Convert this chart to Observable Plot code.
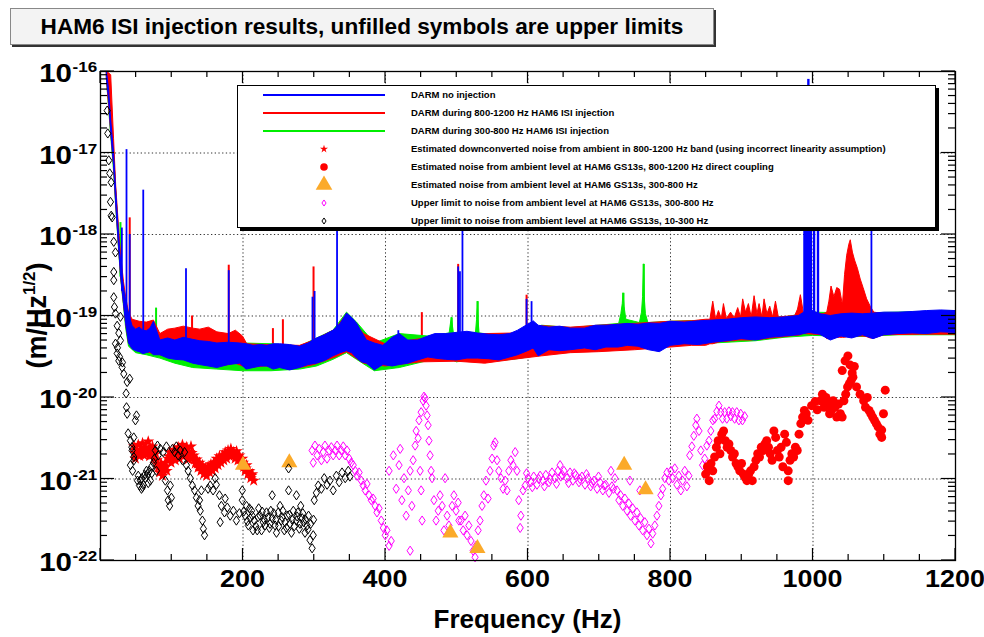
<!DOCTYPE html>
<html><head><meta charset="utf-8">
<script src="https://cdn.jsdelivr.net/npm/d3@7"></script>
<script src="https://cdn.jsdelivr.net/npm/@observablehq/plot@0.6"></script>
<style>
body{margin:0;background:#fff;}
#wrap{position:relative;width:984px;height:637px;overflow:hidden;font-family:"Liberation Sans",Arial,Helvetica,sans-serif;background:#fff;}
#wrap svg.plot{position:absolute;left:0;top:0;}
#title{position:absolute;left:10px;top:8px;width:702px;height:35px;background:#f3f3f3;border:1px solid #888;box-shadow:2px 2px 0 #333;
 font-weight:bold;font-size:22.6px;line-height:35px;text-align:center;color:#000;white-space:nowrap;}
#legend{position:absolute;left:237px;top:85px;width:697px;height:141px;background:#fff;border:1px solid #000;box-shadow:3px 3px 0 #000;}
</style></head>
<body><div id="wrap"><div id="title">HAM6 ISI injection results, unfilled symbols are upper limits</div><div id="legend"></div></div>
<script>
// ---------------- DATA ----------------
const xMajorTicks = [0, 200, 400, 600, 800, 1000, 1200];
const xLabelTicks = [200, 400, 600, 800, 1000, 1200];
const xGridTicks = [200, 400, 600, 800, 1000];
const yDecades = [1e-22, 1e-21, 1e-20, 1e-19, 1e-18, 1e-17, 1e-16];
const yDecadeExp = ["-22", "-21", "-20", "-19", "-18", "-17", "-16"];
const yGridTicks = [1e-21, 1e-20, 1e-19, 1e-18, 1e-17];

// DARM spectra as [frequency Hz, lower edge, upper edge] of the plotted trace (m/Hz^1/2)
const blueBand = [
[9,8e-17,1e-16],[12,4.5e-17,6e-17],[15,1.8e-17,2.5e-17],[19,7e-18,1e-17],[22,2.4e-18,3.5e-18],[26,7e-19,1e-18],[29,3e-19,4.5e-19],[33,1.4e-19,2.2e-19],[36,8e-20,1.5e-19],[40,4.6e-20,1.07e-19],
[45,3.9e-20,7.5e-20],[50,3.7e-20,6.8e-20],[55,3.6e-20,7.2e-20],[60,3.4e-20,6.6e-20],[65,3.5e-20,6.5e-20],[70,3.6e-20,7e-20],[75,3.3e-20,8.5e-20],[84,3.3e-20,5e-20],[95,3e-20,5.3e-20],[105,2.9e-20,5e-20],
[117,2.85e-20,5.4e-20],[130,2.6e-20,5.1e-20],[140,2.5e-20,4.9e-20],[152,2.4e-20,4.8e-20],[164,2.3e-20,4.6e-20],[180,2.5e-20,4.7e-20],[196,2.6e-20,4.6e-20],[205,2.2e-20,4.5e-20],[215,2.3e-20,4.3e-20],[225,2.4e-20,4.4e-20],
[234,2.4e-20,4.3e-20],[243,2.2e-20,4.5e-20],[252,2.3e-20,4.5e-20],[266,2.15e-20,4.4e-20],[280,2.3e-20,4.2e-20],[292,2.5e-20,4.6e-20],[304,2.6e-20,5.3e-20],[315,2.8e-20,5.8e-20],[327,3.2e-20,6.6e-20],[337,3.5e-20,8e-20],
[346,3.7e-20,1.07e-19],[353,3.5e-20,9.5e-20],[360,3e-20,8.1e-20],[367,2.7e-20,6.3e-20],[374,2.6e-20,5e-20],[385,2.15e-20,4.6e-20],[397,2.5e-20,4.3e-20],[410,2.4e-20,5.4e-20],[420,2.5e-20,6e-20],[432,2.6e-20,5e-20],
[446,2.85e-20,5e-20],[460,3.1e-20,5.6e-20],[470,3e-20,6e-20],[485,2.9e-20,6e-20],[500,2.85e-20,6.2e-20],[515,3e-20,6.4e-20],[530,3e-20,6.1e-20],[545,2.95e-20,5.9e-20],[560,2.85e-20,5.8e-20],[575,3.1e-20,6e-20],
[586,3.3e-20,6.6e-20],[600,3.7e-20,7.8e-20],[608,4e-20,8.6e-20],[615,3.2e-20,7.6e-20],[630,3.8e-20,7.2e-20],[645,3.7e-20,7.4e-20],[660,3.8e-20,7e-20],[680,4e-20,7e-20],[695,3.8e-20,7.6e-20],[710,4.1e-20,7.6e-20],
[727,4.1e-20,7.8e-20],[740,4.3e-20,8e-20],[755,4.2e-20,7.8e-20],[770,3.8e-20,8.1e-20],[785,3.6e-20,8e-20],[800,4.3e-20,8.5e-20],[820,4.5e-20,8.3e-20],[840,4.4e-20,8.6e-20],[860,4.7e-20,8.8e-20],[880,4.9e-20,9e-20],
[900,5.2e-20,9.4e-20],[920,5e-20,9.6e-20],[940,5.4e-20,9.4e-20],[960,5.6e-20,9.6e-20],[980,5.8e-20,1e-19],[995,6.2e-20,1.2e-19],[1010,5.9e-20,1.05e-19],[1025,5e-20,1e-19],[1040,5.6e-20,1.05e-19],[1055,5.3e-20,1.07e-19],
[1070,5.8e-20,1.05e-19],[1085,5.2e-20,1.07e-19],[1100,5.8e-20,1.1e-19],[1120,6e-20,1.1e-19],[1140,6.1e-20,1.12e-19],[1160,6e-20,1.15e-19],[1180,6.3e-20,1.17e-19],[1200,6.2e-20,1.15e-19]
];
const redBand = [
[9,8e-17,1e-16],[15,1.8e-17,9e-17],[19,7e-18,1.5e-17],[22,2.4e-18,4e-18],[26,7e-19,1.2e-18],[29,3e-19,5.5e-19],[33,1.4e-19,2.6e-19],[36,8e-20,1.7e-19],[40,4.6e-20,1.1e-19],[45,4e-20,9e-20],
[55,3.7e-20,8.5e-20],[65,3.6e-20,8.3e-20],[75,3.4e-20,8.8e-20],[84,3.3e-20,6e-20],[95,3.1e-20,6.8e-20],[105,3e-20,7e-20],[117,2.9e-20,7.4e-20],[130,2.7e-20,7e-20],[140,2.6e-20,6.8e-20],[152,2.5e-20,7.2e-20],
[164,2.4e-20,6.3e-20],[180,2.5e-20,6e-20],[190,2.6e-20,6.6e-20],[200,2.4e-20,5.6e-20],[206,2.3e-20,4.5e-20],[230,2.4e-20,4.4e-20],[280,2.3e-20,4.3e-20],[300,2.5e-20,5e-20],[330,3.1e-20,6.8e-20],[346,3.6e-20,1.05e-19],
[370,2.6e-20,6e-20],[400,2.4e-20,4.5e-20],[450,2.7e-20,5.2e-20],[500,2.75e-20,6e-20],[540,2.6e-20,6e-20],[580,2.9e-20,6.1e-20],[620,3.2e-20,7.5e-20],[660,3.5e-20,7.2e-20],[700,3.6e-20,7.6e-20],[750,3.8e-20,8e-20],
[800,4.1e-20,8.5e-20],[830,4.3e-20,8.6e-20],[850,4.3e-20,9e-20],[856,4.5e-20,9e-20],[860,4.5e-20,1.5e-19],[864,4.6e-20,9e-20],[868,4.7e-20,1.15e-19],[872,4.8e-20,9.2e-20],[875,4.8e-20,1.4e-19],[879,4.8e-20,9.2e-20],
[885,4.9e-20,1.1e-19],[890,4.9e-20,9.3e-20],[895,5e-20,1.25e-19],[899,5e-20,9.5e-20],[902,5e-20,1.6e-19],[906,5e-20,1.1e-19],[910,5e-20,1.4e-19],[914,5e-20,9.6e-20],[918,5.1e-20,1.75e-19],[922,5.1e-20,1.05e-19],
[925,5.1e-20,1.4e-19],[929,5.1e-20,9.6e-20],[932,5.2e-20,1.6e-19],[936,5.2e-20,1.05e-19],[940,5.3e-20,1.3e-19],[944,5.3e-20,9.6e-20],[948,5.4e-20,1.5e-19],[952,5.4e-20,9.6e-20],[975,5.7e-20,1e-19],[979,5.7e-20,1.2e-19],
[983,5.8e-20,1.8e-19],[987,6e-20,1.1e-19],[1015,5.8e-20,1.05e-19],[1020,5.2e-20,1.1e-19],[1023,5.2e-20,1.5e-19],[1026,5.3e-20,2.3e-19],[1030,5.3e-20,1.7e-19],[1034,5.4e-20,2.2e-19],[1038,5.4e-20,2.1e-19],[1042,5.4e-20,1.35e-19],
[1045,5.4e-20,3.2e-19],[1048,5.5e-20,5.5e-19],[1051,5.5e-20,7.5e-19],[1053,5.5e-20,8.5e-19],[1056,5.5e-20,6e-19],[1059,5.6e-20,4.8e-19],[1063,5.6e-20,3.8e-19],[1067,5.6e-20,2.8e-19],[1071,5.6e-20,2.2e-19],[1076,5.5e-20,1.6e-19],
[1081,5.3e-20,1.3e-19],[1086,5.3e-20,1.1e-19],[1100,5.8e-20,1.06e-19],[1150,5.9e-20,1.1e-19],[1200,5.9e-20,1.1e-19]
];
const greenBand = [
[9,8e-17,1e-16],[15,1.6e-17,2.4e-17],[19,6e-18,1e-17],[22,2.2e-18,3.4e-18],[26,6.5e-19,1e-18],[29,2.8e-19,4.4e-19],[33,1.3e-19,2.2e-19],[36,7e-20,1.5e-19],[40,4.2e-20,1e-19],[50,3.5e-20,7e-20],
[65,3.3e-20,6.6e-20],[84,3e-20,5e-20],[105,2.6e-20,5e-20],[130,2.3e-20,5.1e-20],[164,2.2e-20,4.6e-20],[200,2.1e-20,4.6e-20],[240,2.1e-20,4.5e-20],[280,2.2e-20,4.2e-20],[304,2.4e-20,5.3e-20],[327,2.9e-20,6.6e-20],
[346,3.5e-20,1.1e-19],[360,2.9e-20,8.3e-20],[385,2.1e-20,4.6e-20],[420,2.3e-20,6e-20],[460,2.8e-20,5.6e-20],[490,2.8e-20,6.1e-20],[493,2.8e-20,9.5e-20],[496,2.8e-20,6.1e-20],[500,2.7e-20,6.2e-20],[527,2.9e-20,6.2e-20],
[528.5,3e-20,9e-20],[529.5,3e-20,1.5e-19],[530.5,3e-20,9e-20],[532,3e-20,6.1e-20],[540,2.75e-20,6e-20],[580,2.9e-20,6e-20],[620,3.3e-20,7.6e-20],[660,3.6e-20,7.1e-20],[700,3.7e-20,7.6e-20],[728,3.9e-20,8e-20],
[731,3.9e-20,1.05e-19],[733,4e-20,1.4e-19],[734,4e-20,1.9e-19],[735.5,4e-20,1.3e-19],[738,4e-20,9e-20],[757,4e-20,8.2e-20],[760,4e-20,1.1e-19],[761.5,4e-20,1.7e-19],[762.6,4e-20,4.3e-19],[763.8,4e-20,1.7e-19],
[765.5,4e-20,1.05e-19],[769,4e-20,8.2e-20],[800,4.2e-20,8.5e-20],[860,4.6e-20,8.8e-20],[920,4.9e-20,9.6e-20],[960,5.4e-20,9.6e-20],[1000,5.7e-20,1.1e-19],[1060,5.5e-20,1.07e-19],[1120,5.8e-20,1.1e-19],[1200,5.8e-20,1.15e-19]
];
// narrow lines: [frequency, foot, peak]
const blueLines = [[30,2e-19,1.2e-18],[36.5,1e-19,1.1e-17],[41,6e-20,1e-18],[60,5e-20,3.5e-18],[120,4e-20,3.8e-19],[180,4e-20,3.6e-19],[297.5,4e-20,1.7e-19],[300.5,4e-20,2e-19],[332,5e-20,3e-18],[418,4e-20,6.6e-20],
[502,5e-20,4e-19],[504.5,5e-20,3.5e-19],[508,5e-20,3e-18],[598,5e-20,1.6e-19],[605,5e-20,1.5e-19],[1082,8e-20,2e-18]];
const blueBlock = [[988,8e-20,5e-18],[990,8e-20,5e-18],[992,8e-20,5e-18],[993.5,8e-20,8e-17],[995,8e-20,5e-18],[997,8e-20,5e-18],[1001.5,8e-20,5e-18],[1007,8e-20,5e-18]];
const redLines = [[41,6e-20,1.6e-18],[128.5,4e-20,1e-19],[180,4e-20,4.2e-19],[242,4e-20,7e-20],[256,4e-20,9e-20],[299,4e-20,4e-19],[451,4e-20,1.1e-19],[502,5e-20,4.3e-19],[598,5e-20,1.8e-19]];
const greenLines = [[28,3e-19,1.4e-18],[78,4e-20,1.25e-19],[493,4e-20,9.5e-20],[529.5,4e-20,1.5e-19],[734,5e-20,1.9e-19],[762.6,5e-20,4.3e-19]];

// markers: [frequency Hz, log10 of amplitude]
const redStarLog = [[47,-20.60],[49,-20.75],[51,-20.65],[53,-20.58],[55,-20.72],[57,-20.64],[59,-20.56],[61,-20.71],[63,-20.61],[65,-20.67],[67,-20.54],[69,-20.72],[71,-20.64],[73,-20.60],[75,-20.75],[77,-20.67],[79,-20.77],[81,-20.86],[83,-20.92],[85,-20.81],
[87,-20.96],[89,-20.87],[91,-20.80],[93,-20.90],[95,-20.75],[97,-20.67],[99,-20.80],[101,-20.71],[103,-20.64],[105,-20.77],[107,-20.69],[109,-20.61],[111,-20.75],[113,-20.66],[115,-20.58],[117,-20.72],[119,-20.65],[121,-20.61],[123,-20.76],[125,-20.67],
[127,-20.60],[129,-20.75],[131,-20.71],[133,-20.81],[135,-20.76],[137,-20.86],[139,-20.80],[141,-20.90],[143,-20.83],[145,-20.94],[147,-20.87],[149,-20.96],[151,-20.85],[153,-20.92],[155,-20.82],[157,-20.90],[159,-20.80],[161,-20.87],[163,-20.75],[165,-20.83],
[167,-20.72],[169,-20.80],[171,-20.71],[173,-20.77],[175,-20.67],[177,-20.75],[179,-20.65],[181,-20.72],[183,-20.63],[185,-20.71],[187,-20.67],[189,-20.75],[191,-20.66],[193,-20.77],[195,-20.71],[197,-20.81],[199,-20.75],[201,-20.85],[203,-20.90],[205,-20.83],
[207,-20.94],[209,-20.90],[211,-20.99],[213,-20.94],[215,-21.02],
[48,-20.68],[52,-20.70],[56,-20.66],[60,-20.64],[64,-20.70],[68,-20.63],[72,-20.70],[76,-20.70],[80,-20.82],[84,-20.88],[88,-20.90],[92,-20.85],[96,-20.72],[100,-20.75],[104,-20.70],[108,-20.67],[112,-20.70],[116,-20.64],[120,-20.68],[124,-20.70],
[128,-20.68],[132,-20.76],[136,-20.81],[140,-20.85],[144,-20.88],[148,-20.92],[152,-20.88],[156,-20.86],[160,-20.84],[164,-20.79],[168,-20.76],[172,-20.74],[176,-20.71],[180,-20.69],[184,-20.67],[188,-20.71],[192,-20.72],[196,-20.76],[200,-20.80],[204,-20.87],[208,-20.92],[212,-20.96]];
const redDotLog = [[849.3,-20.94],[851.8,-20.85],[854.3,-21.02],[856.8,-20.81],[859.3,-20.90],[861.9,-20.73],[864.4,-20.61],[866.9,-20.53],[869.4,-20.69],[872,-20.45],[874.5,-20.41],[877,-20.53],[879.5,-20.61],[882,-20.57],[884.6,-20.65],[887.1,-20.73],[889.6,-20.69],[892.1,-20.81],[894.6,-20.85],[897.2,-20.90],
[899.7,-20.81],[902.2,-20.94],[904.7,-20.98],[907.3,-21.02],[909.8,-20.94],[912.3,-20.90],[914.8,-21.02],[917.3,-20.85],[919.9,-20.77],[922.4,-20.69],[924.9,-20.73],[927.4,-20.61],[930,-20.65],[932.5,-20.57],[935,-20.53],[937.5,-20.61],[940,-20.69],[942.6,-20.77],[945.1,-20.41],[947.6,-20.49],
[950.1,-20.65],[952.6,-20.73],[955.2,-20.61],[957.7,-20.85],[960.2,-20.45],[962.7,-20.55],[965.2,-21.02],[965.2,-20.90],[967.8,-20.77],[970.3,-20.69],[972.8,-20.73],[975.3,-20.61],[977.9,-20.65],[980.4,-20.45],[982.9,-20.32],[985.4,-20.24],[987.9,-20.16],[990.5,-20.20],[993,-20.28],[998,-20.10],
[1003,-20.05],[1006,-20.15],[1010.6,-20.04],[1013.2,-19.96],[1015.7,-20.12],[1018.2,-20.00],[1020.7,-20.08],[1023.3,-20.20],[1025.8,-20.16],[1028.3,-20.04],[1030.8,-20.12],[1033.3,-20.24],[1035.9,-20.08],[1038.4,-20.20],[1040.9,-20.24],[1043.4,-20.04],[1045.9,-19.96],[1048.5,-19.87],[1051,-19.83],[1053.5,-19.79],
[1056,-19.75],[1041,-19.67],[1045,-19.55],[1049,-19.49],[1052,-19.60],[1055,-19.70],[1058,-19.62],[1061.1,-19.87],[1066.1,-19.96],[1071.1,-20.04],[1073.7,-20.12],[1076.2,-20.00],[1078.7,-20.16],[1081.2,-20.20],[1083.7,-20.24],[1086.3,-20.28],[1088.8,-20.32],[1091.3,-20.36],[1093.8,-20.45],[1096.4,-20.49],
[1096.4,-20.40],[1101.4,-19.91],[1098.9,-20.20]];
const orangeTriangleLog = [[200,-20.83],[265,-20.80],[491,-21.66],[529,-21.85],[735,-20.83],[765,-21.13]];
const magentaDiamondLog = [
[297,-20.65],[298.6,-20.80],[301,-20.59],[304,-20.71],[307,-20.63],[310,-20.77],[312.6,-20.67],[315,-20.59],[318,-20.75],[321,-20.65],[324,-20.61],[326.6,-20.71],[329.5,-20.65],[332,-20.59],[335,-20.71],[338,-20.65],[340.7,-20.60],[343.5,-20.71],[346,-20.65],[349,-20.75],[352,-20.80],
[354.7,-20.83],[357.5,-20.90],[360,-20.96],[363,-20.92],[366,-21.02],[368.7,-21.08],[371.5,-21.14],[374,-21.06],[377,-21.20],[380,-21.26],[382.7,-21.24],[385.5,-21.33],[388,-21.41],[391,-21.36],[394,-21.51],[397,-21.60],[399.6,-21.69],[402,-21.63],[405,-21.82],[408,-21.76],[434.6,-21.88],
[405,-20.90],[411,-20.71],[415,-21.12],[419,-20.83],[420.6,-20.63],[423,-21.26],[426,-20.99],[429,-21.45],[432,-21.14],[434.6,-20.90],[437,-21.33],[438.8,-20.77],[441.6,-20.59],[443,-20.41],[445.8,-20.50],[448.6,-20.90],[450,-21.14],[451.4,-21.51],
[447,-20.28],[450,-20.18],[452.8,-20.04],[454,-19.99],[455.6,-20.01],[457,-20.10],[458.4,-20.22],[459.8,-20.34],[461,-20.53],[462.6,-20.71],[464,-20.90],[465.4,-20.99],
[468,-21.26],[471,-21.51],[474,-21.39],[476.6,-21.20],[479.5,-21.33],[482,-21.63],[483.7,-20.99],[486.5,-21.45],[489,-21.57],[493.5,-21.33],[496,-21.20],[499,-21.39],[502,-21.29],[503,-21.51],
[506,-21.51],[509,-21.63],[511.7,-21.45],[514.5,-21.69],[517,-21.57],[520,-21.76],[523,-21.88],[525.7,-21.96],[527,-21.82],[530,-21.63],[532.7,-21.51],[535.5,-21.33],
[538,-21.20],[541,-21.02],[544,-21.24],[546.7,-20.90],[549.6,-20.75],[552,-20.59],[553.8,-20.55],[556.6,-20.77],[559,-20.90],[562,-20.99],[565,-21.12],[568,-21.02],[570.6,-21.14],[573,-20.90],[576,-20.77],[579,-20.83],[582,-20.67],[584.6,-20.90],[587,-21.26],[589,-21.60],[590,-21.45],[593,-21.14],
[596,-21.08],[600,-20.99],[604,-21.04],[608,-20.97],[612.6,-21.07],[617,-20.96],[621,-21.02],[625,-20.95],[629.5,-21.04],[633.7,-20.92],[638,-20.99],[642,-20.90],[646,-20.97],[650.5,-20.90],[654.7,-20.99],[659,-20.92],[663,-21.02],[667,-20.95],[671.5,-21.04],[675.7,-20.97],
[680,-21.07],[684,-20.99],[688,-21.09],[692.6,-21.02],[697,-21.12],[701,-21.04],[705,-21.14],[709,-21.07],[713.6,-21.17],[717.8,-21.09],[722,-20.99],[716.4,-20.90],[645,-20.83],
[598,-20.93],[606,-21.10],[615,-21.00],[623,-21.09],[631,-21.00],[640,-21.06],[648,-20.95],[657,-21.05],[665,-20.93],[673,-21.00],[682,-20.94],[690,-21.05],[699,-20.97],[707,-21.08],[720,-21.12],
[725,-21.14],[727.6,-21.26],[730,-21.20],[733,-21.33],[736,-21.24],[739,-21.39],[741.6,-21.30],[744,-21.45],[747,-21.36],[750,-21.51],[753,-21.41],[755.6,-21.57],[758,-21.48],[761,-21.63],[764,-21.53],[767,-21.69],[769.7,-21.61],[772.5,-21.79],[775,-21.67],[778,-21.57],[781,-21.45],[783.7,-21.33],[743,-21.02],[757,-21.14],
[786.5,-21.20],[789,-21.12],[792,-20.99],[795,-20.92],[797.7,-21.02],[800.6,-20.90],[803,-20.99],[806,-20.87],[809,-21.07],[811.7,-20.96],[814.5,-21.14],[817,-21.02],[820,-20.90],[823,-21.09],[825.8,-20.96],[827,-20.71],[830,-20.60],[832.7,-20.47],[835.5,-20.34],[837,-20.26],
[840,-20.41],[842.5,-20.65],[845,-20.83],[848,-20.75],[851,-20.59],[854,-20.53],[856.6,-20.41],[859.4,-20.28],[862,-20.26],[865,-20.17],[868,-20.10],[870.6,-20.18],[873,-20.26],[876,-20.18],[879,-20.26],[882,-20.17],[884.6,-20.23],[887,-20.18],[890,-20.26],[893,-20.18],[896,-20.28],[898.6,-20.20],[901,-20.28],[904,-20.23]];
const blackDiamondLog = [
[9.4,-16.48],[10.2,-16.76],[11.6,-17.09],[13,-17.25],[15,-17.36],[14,-17.60],[15,-17.77],[16.4,-17.79],[18.6,-18.09],[21,-18.22],[18.6,-18.46],[18.6,-18.56],[18.6,-18.77],[19.6,-18.89],[21,-18.97],[28,-19.01],[23.4,-19.12],[25.7,-19.21],[28,-19.30],[21,-19.34],
[23.8,-19.39],[23.4,-19.46],[26.6,-19.50],[25.7,-19.55],[30.8,-19.57],[30.4,-19.63],[32.7,-19.71],[37.4,-19.81],[41,-19.77],[36,-19.95],[36.5,-20.12],[37.4,-20.20],[38.8,-20.44],[42,-20.53],[44.4,-20.65],[46.7,-20.49],[49,-20.28],[50.5,-20.22],[42,-20.83],[46.7,-20.73],[44,-20.61],[47,-20.77],[45,-20.90],
[51.9,-21.02],[54.7,-21.08],[57.5,-21.12],[60,-21.07],[63,-20.99],[66,-20.94],[68.7,-20.90],[71.5,-20.85],[74.3,-20.80],[75.7,-20.75],[78.5,-20.90],[70,-21.02],[64.5,-20.90],[77,-20.65],[53,-20.96],[58,-20.99],
[56,-21.02],[62,-20.95],[67,-21.05],[72,-20.93],[59,-21.10],
[80,-20.59],[84,-20.63],[88,-20.67],[92.5,-20.60],[81,-20.71],[91,-21.02],[94,-21.14],[95,-21.26],[97,-21.33],[99.5,-21.23],[98,-21.08],
[101,-20.63],[104,-20.67],[106.5,-20.60],[109,-20.71],[112,-20.65],[115,-20.77],[118,-20.67],[120.6,-20.83],
[123,-20.90],[126,-20.99],[129,-21.08],[132,-21.14],[134.6,-21.23],[137,-21.33],[140,-21.39],[143,-21.51],[144.4,-21.61],[146,-21.69],[139,-21.26],[141.6,-21.14],
[151,-21.12],[154,-21.08],[158,-21.14],[162.6,-21.07],[167,-21.20],[161,-20.99],
[169.6,-21.33],[174,-21.41],[178,-21.35],[182,-21.45],[186.5,-21.39],[190.7,-21.51],[195,-21.42],[175,-21.24],[168,-21.53],
[199,-21.26],[199,-21.14],[203,-21.45],[207.5,-21.57],[212,-21.39],[216,-21.51],[220,-21.63],[224,-21.45],[228.5,-21.53],[233,-21.41],[237,-21.60],[241,-21.48],[241,-21.20],[245,-21.57],[249.5,-21.41],[253.7,-21.51],[258,-21.63],[262,-21.45],[264,-20.87],[264,-21.14],
[266,-21.55],[270.6,-21.39],[274.8,-21.51],[275,-21.20],[279,-21.61],[283,-21.48],[287,-21.66],[290,-21.57],[294,-21.75],[297,-21.85],[298.6,-21.69],
[205,-21.33],[214,-21.63],[222,-21.36],[231,-21.57],[239,-21.39],[247,-21.66],[256,-21.39],[268,-21.66],[277,-21.41],[285,-21.53],[292,-21.45],[210,-21.48],[226,-21.63],[252,-21.33],[281,-21.33],
[201,-21.40],[206,-21.52],[209,-21.36],[213,-21.45],[218,-21.58],[221,-21.47],[227,-21.40],[230,-21.50],[235,-21.47],[238,-21.55],[243,-21.42],[246,-21.50],[250,-21.58],[255,-21.47],[259,-21.53],[261,-21.60],[265,-21.44],[269,-21.50],[272,-21.58],[276,-21.46],
[280,-21.55],[284,-21.42],[288,-21.50],[291,-21.62],[295,-21.55],[299,-21.50],
[300,-21.26],[303,-21.17],[305.6,-21.08],[310,-21.12],[314,-20.99],[318,-21.07],[322,-21.02],[326.6,-21.14],[331,-20.96],[335,-21.04],[339,-20.92],[343.5,-20.99],[347.7,-20.90],[350,-20.97]];

const legendItems = [
 {kind:"line", color:"#0000ff", label:"DARM no injection"},
 {kind:"line", color:"#ff0000", label:"DARM during 800-1200 Hz HAM6 ISI injection"},
 {kind:"line", color:"#00ee00", label:"DARM during 300-800 Hz HAM6 ISI injection"},
 {kind:"star", color:"#ff0000", label:"Estimated downconverted noise from ambient in 800-1200 Hz band (using incorrect linearity assumption)"},
 {kind:"circle", color:"#ff0000", label:"Estimated noise from ambient level at HAM6 GS13s, 800-1200 Hz direct coupling"},
 {kind:"triangle", color:"#fbaa2a", label:"Estimated noise from ambient level at HAM6 GS13s, 300-800 Hz"},
 {kind:"diamond", color:"#ff00ff", label:"Upper limit to noise from ambient level at HAM6 GS13s, 300-800 Hz"},
 {kind:"diamond", color:"#000000", label:"Upper limit to noise from ambient level at HAM6 GS13s, 10-300 Hz"}
];

// ---------------- BUILD ----------------
const band = a => d3.sort(a.map(([f, lo, hi]) => ({f, lo, hi})), d => d.f);
const lines = a => a.map(([f, lo, hi]) => ({f, lo, hi}));
const pts = a => a.map(([f, e]) => ({f, v: Math.pow(10, e)}));

const tallDiamond = {draw(ctx, size) {const r = Math.sqrt(size / Math.PI); const w = r * 0.78, h = r * 1.15;
  ctx.moveTo(0, -h); ctx.lineTo(w, 0); ctx.lineTo(0, h); ctx.lineTo(-w, 0); ctx.closePath();}};

const FONT = "Liberation Sans, Arial, Helvetica, sans-serif";
function axesMark(index, scales, values, dims) {
  const {x, y} = scales;
  const L = dims.marginLeft, R = dims.width - dims.marginRight, T = dims.marginTop, B = dims.height - dims.marginBottom;
  const g = d3.create("svg:g");
  const tk = g.append("g").attr("stroke", "#000").attr("stroke-width", 1.2).attr("fill", "none");
  for (let t = 0; t <= 1200; t += 50) {
    const px = x(t), len = xMajorTicks.includes(t) ? 12 : 6;
    tk.append("line").attr("x1", px).attr("x2", px).attr("y1", B).attr("y2", B - len);
    tk.append("line").attr("x1", px).attr("x2", px).attr("y1", T).attr("y2", T + len);
  }
  for (let i = 0; i < yDecades.length; i++) {
    const d = yDecades[i];
    for (let m = 1; m <= 9; m++) {
      const v = d * m; if (v > 1e-16 * 1.0001) continue;
      const py = y(v), len = m === 1 ? 14 : 7;
      tk.append("line").attr("x1", L).attr("x2", L + len).attr("y1", py).attr("y2", py);
      tk.append("line").attr("x1", R).attr("x2", R - len).attr("y1", py).attr("y2", py);
    }
  }
  const lab = g.append("g").attr("font-family", FONT).attr("font-weight", "bold").attr("fill", "#000");
  for (const t of xLabelTicks) {
    lab.append("text").attr("transform", `translate(${x(t)},${B + 27}) scale(1.12,1)`).attr("text-anchor", "middle").attr("font-size", 24).text(t);
  }
  yDecades.forEach((d, i) => {
    const py = y(d);
    lab.append("text").attr("transform", `translate(${L - 28},${py + 11}) scale(1.18,1)`).attr("text-anchor", "end").attr("font-size", 25).text("10");
    lab.append("text").attr("transform", `translate(${L - 27.5},${py + 1}) scale(1.1,1)`).attr("text-anchor", "start").attr("font-size", 15.5).text(yDecadeExp[i]);
  });
  lab.append("text").attr("x", (L + R) / 2).attr("y", dims.height - 9).attr("text-anchor", "middle").attr("font-size", 26).text("Frequency (Hz)");
  const yt = lab.append("text").attr("transform", `translate(46,${(T + B) / 2}) rotate(-90)`).attr("text-anchor", "middle").attr("font-size", 27);
  yt.append("tspan").text("(m/Hz");
  yt.append("tspan").attr("font-size", 17).attr("dy", -11).text("1/2");
  yt.append("tspan").attr("dy", 11).text(")");
  return g.node();
}

const chart = Plot.plot({
  width: 984, height: 637,
  marginLeft: 100, marginRight: 29, marginTop: 71, marginBottom: 77,
  style: {background: "transparent", overflow: "visible"},
  x: {domain: [0, 1200], axis: null},
  y: {type: "log", domain: [1e-22, 1e-16], axis: null},
  marks: [
    Plot.ruleX(xGridTicks, {stroke: "#333", strokeDasharray: "1.3,2.4", strokeWidth: 1}),
    Plot.ruleY(yGridTicks, {stroke: "#333", strokeDasharray: "1.3,2.4", strokeWidth: 1}),
    Plot.ruleX(lines(greenLines), {x: "f", y1: "lo", y2: "hi", stroke: "#00ee00", strokeWidth: 2, clip: true}),
    Plot.ruleX(lines(redLines), {x: "f", y1: "lo", y2: "hi", stroke: "#ff0000", strokeWidth: 2, clip: true}),
    Plot.areaY(band(greenBand), {x: "f", y1: "lo", y2: "hi", fill: "#00ee00", stroke: "#00ee00", strokeWidth: 1, clip: true}),
    Plot.areaY(band(redBand), {x: "f", y1: "lo", y2: "hi", fill: "#ff0000", stroke: "#ff0000", strokeWidth: 1, clip: true}),
    Plot.areaY(band(blueBand), {x: "f", y1: "lo", y2: "hi", fill: "#0000ff", stroke: "#0000ff", strokeWidth: 1, clip: true}),
    Plot.ruleX(lines(blueLines), {x: "f", y1: "lo", y2: "hi", stroke: "#0000ff", strokeWidth: 1.8, clip: true}),
    Plot.ruleX(lines(blueBlock), {x: "f", y1: "lo", y2: "hi", stroke: "#0000ff", strokeWidth: 2.4, clip: true}),
    Plot.dot(pts(magentaDiamondLog), {x: "f", y: "v", symbol: tallDiamond, r: 4, stroke: "#ff00ff", fill: "none", strokeWidth: 1}),
    Plot.dot(pts(redStarLog), {x: "f", y: "v", symbol: "star", r: 3.8, fill: "#ff0000", stroke: "none"}),
    Plot.dot(pts(orangeTriangleLog), {x: "f", y: "v", symbol: "triangle", r: 6, fill: "#fbaa2a", stroke: "none"}),
    Plot.dot(pts(blackDiamondLog), {x: "f", y: "v", symbol: tallDiamond, r: 4, stroke: "#000", fill: "none", strokeWidth: 1, clip: true}),
    Plot.dot(pts(redDotLog), {x: "f", y: "v", r: 4.5, fill: "#ff0000", stroke: "none"}),
    Plot.frame({stroke: "#000", strokeWidth: 1.3}),
    axesMark
  ]
});
chart.classList.add("plot");
const wrap = document.getElementById("wrap");
wrap.insertBefore(chart, wrap.firstChild);

// legend
const lg = d3.select("#legend").append("svg").attr("width", 697).attr("height", 141);
legendItems.forEach((it, i) => {
  const cy = 9 + i * 18;
  if (it.kind === "line") {
    lg.append("line").attr("x1", 25).attr("x2", 147).attr("y1", cy).attr("y2", cy).attr("stroke", it.color).attr("stroke-width", 2);
  } else {
    const type = it.kind === "star" ? d3.symbolStar : it.kind === "circle" ? d3.symbolCircle : it.kind === "triangle" ? d3.symbolTriangle : tallDiamond;
    const size = it.kind === "star" ? 20 : it.kind === "circle" ? 45 : it.kind === "triangle" ? 120 : 22;
    const p = lg.append("path").attr("transform", `translate(86,${cy})`).attr("d", d3.symbol(type, size)());
    if (it.kind === "diamond") p.attr("fill", "none").attr("stroke", it.color).attr("stroke-width", 1);
    else p.attr("fill", it.color);
  }
  lg.append("text").attr("x", 173).attr("y", cy + 3.4).attr("font-family", FONT).attr("font-weight", "bold").attr("font-size", 9.5).text(it.label);
});
</script></body></html>
